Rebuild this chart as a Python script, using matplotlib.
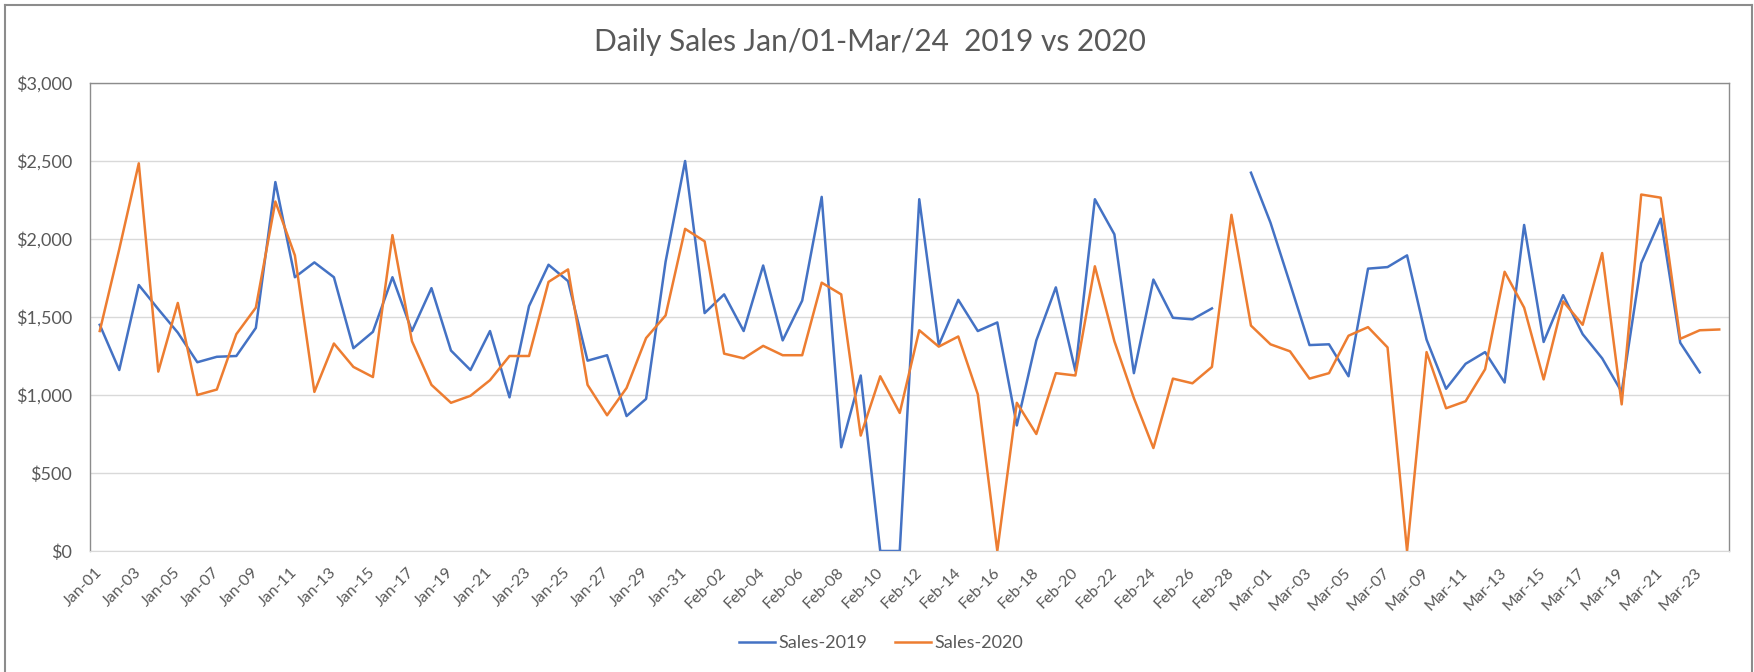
import numpy as np
import pandas as pd
import matplotlib
matplotlib.use('Agg')
import matplotlib.pyplot as plt
from matplotlib.lines import Line2D
from matplotlib.ticker import FuncFormatter

plt.rcParams['font.family'] = ['Lato', 'DejaVu Sans']

# one label per day, 2020 calendar (has Feb-29)
days = list(pd.date_range('2020-01-01', '2020-03-24').strftime('%b-%d'))

nan = np.nan
sales_2019 = [1450, 1160, 1705, 1550, 1400, 1210, 1245, 1250, 1430, 2365,
              1755, 1850, 1755, 1300, 1405, 1755, 1410, 1685, 1285, 1160,
              1410, 985, 1570, 1835, 1730, 1220, 1255, 865, 975, 1855,
              2500,
              1525, 1645, 1410, 1830, 1350, 1605, 2270, 665, 1125, 0,
              0, 2255, 1320, 1610, 1410, 1465, 805, 1350, 1690, 1155,
              2255, 2030, 1140, 1740, 1495, 1485, 1555, nan, 2425,
              2105, 1715, 1320, 1325, 1120, 1810, 1820, 1895, 1355, 1040,
              1200, 1275, 1080, 2090, 1340, 1640, 1390, 1235, 1020, 1845,
              2130, 1335, 1145, nan]

sales_2020 = [1410, 1935, 2485, 1150, 1590, 1000, 1035, 1390, 1560, 2240,
              1895, 1020, 1330, 1180, 1115, 2025, 1345, 1065, 950, 995,
              1095, 1250, 1250, 1725, 1805, 1065, 870, 1045, 1365, 1510,
              2065,
              1985, 1265, 1235, 1315, 1255, 1255, 1720, 1645, 740, 1120,
              885, 1415, 1310, 1375, 1005, 0, 950, 750, 1140, 1125,
              1825, 1345, 980, 660, 1105, 1075, 1180, 2155, 1445,
              1325, 1280, 1105, 1140, 1380, 1435, 1305, 0, 1275, 915,
              960, 1165, 1790, 1560, 1100, 1600, 1450, 1910, 940, 2285,
              2265, 1360, 1415, 1420]

W, H = 1754, 672
fig = plt.figure(figsize=(W / 100, H / 100), dpi=100)
ax = fig.add_axes([90 / W, 1 - 551 / H, (1729 - 90) / W, (551 - 83) / H])

x = np.arange(len(days))
ax.plot(x, sales_2019, color='#4472C4', lw=1.8, label='Sales-2019')
ax.plot(x, sales_2020, color='#ED7D31', lw=1.8, label='Sales-2020')

ax.set_xlim(-0.5, len(days) - 0.5)
ax.set_ylim(0, 3000)
ax.set_yticks(range(0, 3001, 500))
ax.yaxis.set_major_formatter(FuncFormatter(lambda v, p: f'${v:,.0f}'))
ax.set_xticks(x[::2])
ax.set_xticklabels(days[::2], rotation=45, ha='right', va='center',
                   rotation_mode='anchor')
ax.tick_params(axis='x', length=0, pad=14, labelsize=11.5, labelcolor='#595959')
ax.tick_params(axis='y', length=0, pad=13, labelsize=13, labelcolor='#595959')

ax.grid(axis='y', color='#d9d9d9', lw=1)
ax.set_axisbelow(True)
for s in ['left', 'top', 'right']:
    ax.spines[s].set_color('#8c8c8c')
    ax.spines[s].set_linewidth(1)
ax.spines['bottom'].set_color('#d9d9d9')

fig.text(870 / W, 1 - 42 / H, 'Daily Sales Jan/01-Mar/24  2019 vs 2020',
         ha='center', va='center', fontsize=21.5, color='#595959')

fig.legend(loc='center', bbox_to_anchor=(881 / W, 1 - 643 / H), ncol=2,
           frameon=False, fontsize=13, labelcolor='#595959',
           handlelength=2.0, handletextpad=0.2, columnspacing=1.5)

# outer chart border
for xs, ys in [([5, 5], [5, H]), ([5, 1752], [5, 5]), ([1752, 1752], [5, H])]:
    fig.add_artist(Line2D([v / W for v in xs], [1 - v / H for v in ys],
                          transform=fig.transFigure, color='#8c8c8c', lw=1.5))

fig.savefig('out.png', dpi=100)
